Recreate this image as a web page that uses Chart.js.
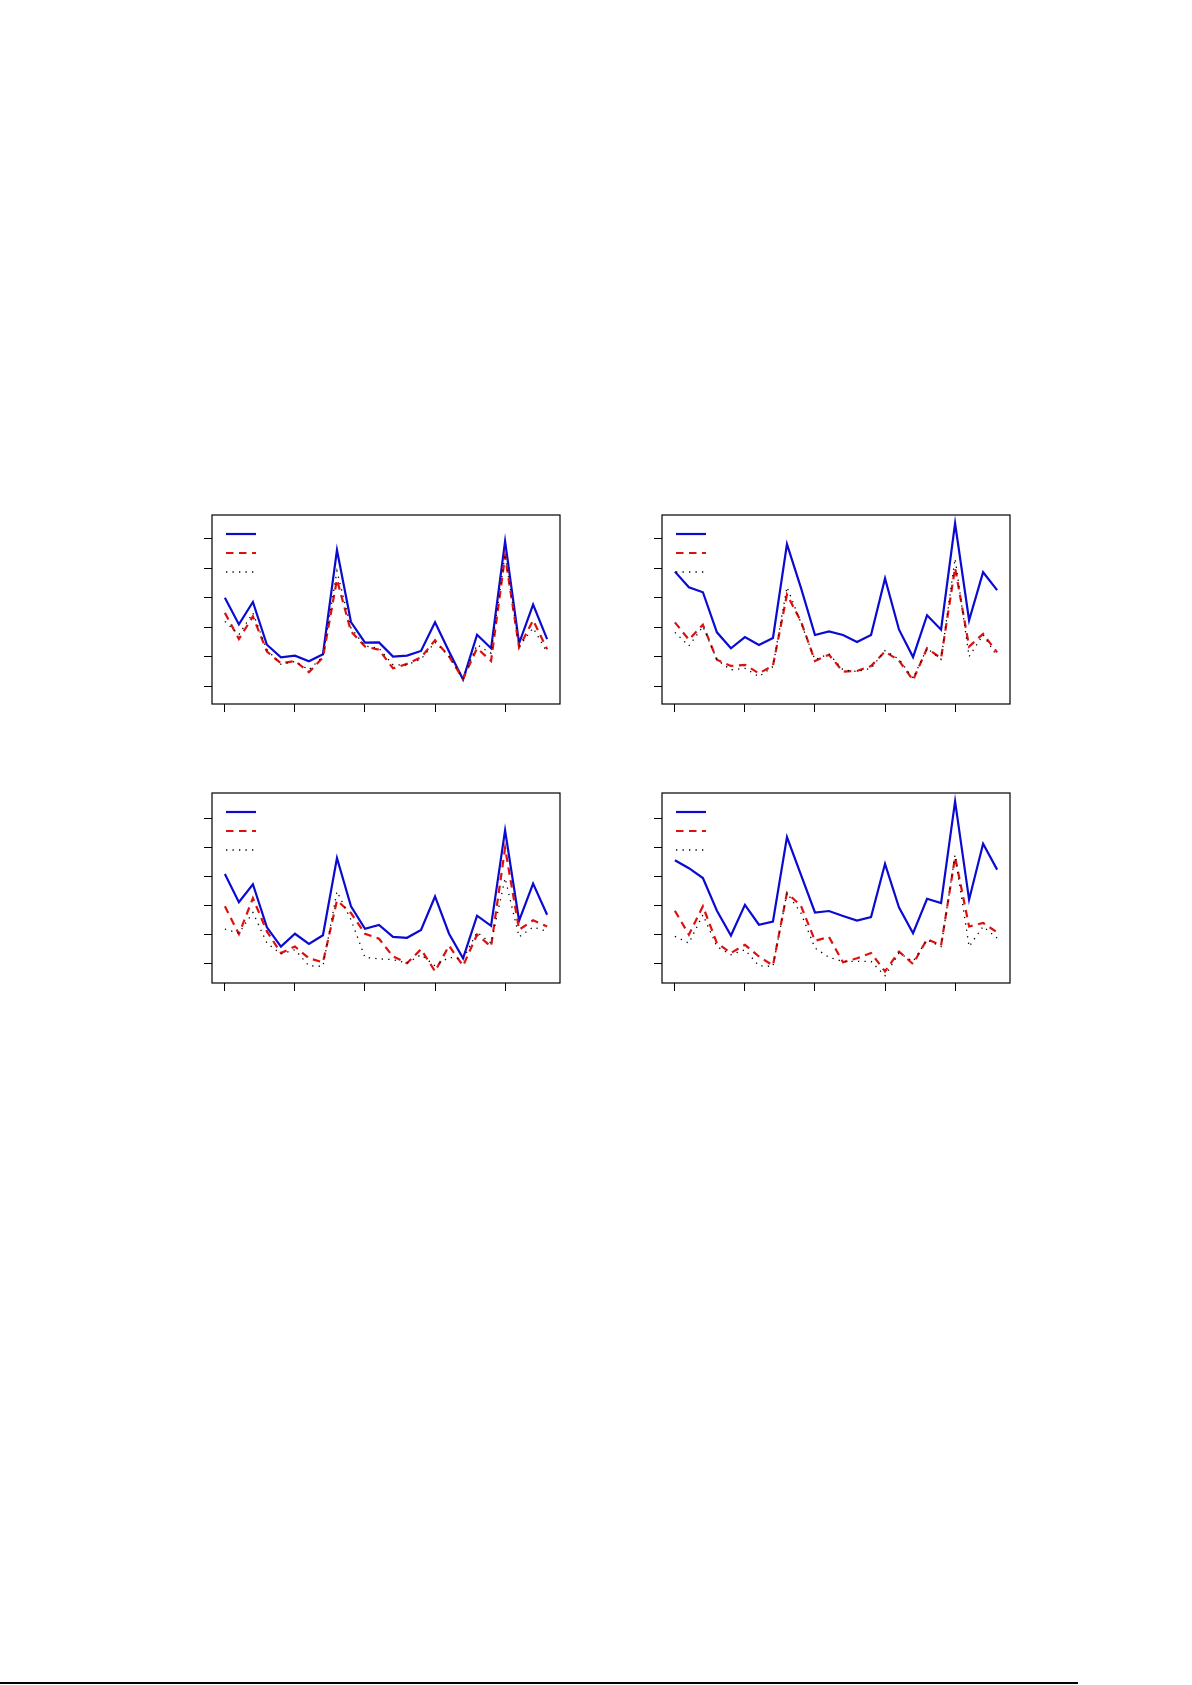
<!DOCTYPE html>
<html>
<head>
<meta charset="utf-8">
<script src="https://cdn.jsdelivr.net/npm/chart.js@4.4.0/dist/chart.umd.min.js"></script>
<style>
  html, body { margin: 0; padding: 0; background: #ffffff; }
  body { width: 1192px; height: 1685px; position: relative; overflow: hidden; font-family: "DejaVu Sans", sans-serif; }
  .panel { position: absolute; }
  .panel canvas { display: block; }
  .rule { position: absolute; left: 0; top: 1682px; width: 1078px; height: 2px; background: #000; }
</style>
</head>
<body>
<div class="panel" id="p1"><canvas id="c1"></canvas></div>
<div class="panel" id="p2"><canvas id="c2"></canvas></div>
<div class="panel" id="p3"><canvas id="c3"></canvas></div>
<div class="panel" id="p4"><canvas id="c4"></canvas></div>
<div class="rule"></div>
<script>
// ---- data (x = index 0..23) ----
const xIndex = [0,1,2,3,4,5,6,7,8,9,10,11,12,13,14,15,16,17,18,19,20,21,22,23];
const xTickValues = [0, 5, 10, 15, 20];
const yTickValues = [0, 1, 2, 3, 4, 5];

const p1Blue  = [2.99,2.09,2.85,1.40,0.97,1.03,0.84,1.08,4.61,2.17,1.47,1.48,1.00,1.03,1.19,2.16,1.17,0.22,1.74,1.28,4.91,1.45,2.76,1.59];
const p1Red   = [2.48,1.59,2.36,1.17,0.77,0.85,0.47,0.97,3.61,1.85,1.34,1.23,0.60,0.75,0.97,1.55,1.00,0.24,1.28,0.85,4.41,1.31,2.23,1.25];
const p1Black = [2.19,1.74,2.48,1.23,0.74,0.83,0.55,1.00,3.90,1.97,1.36,1.28,0.72,0.72,0.91,1.48,1.02,0.26,1.40,1.11,4.47,1.34,1.97,1.14];

const p2Blue  = [3.88,3.35,3.18,1.82,1.28,1.66,1.39,1.63,4.81,3.33,1.73,1.85,1.73,1.49,1.73,3.65,1.91,0.98,2.40,1.91,5.52,2.23,3.86,3.25];
const p2Red   = [2.16,1.57,2.08,0.89,0.68,0.72,0.43,0.69,3.10,2.19,0.85,1.06,0.49,0.51,0.68,1.17,0.86,0.20,1.28,0.94,4.01,1.34,1.77,1.14];
const p2Black = [1.82,1.36,2.02,0.89,0.55,0.60,0.32,0.66,3.36,2.14,0.89,1.09,0.55,0.49,0.60,1.20,0.91,0.26,1.28,0.91,4.32,1.00,1.74,1.00];

const p3Blue  = [3.08,2.11,2.73,1.25,0.59,1.03,0.68,0.98,3.63,1.97,1.20,1.33,0.92,0.89,1.16,2.31,1.03,0.19,1.65,1.30,4.58,1.48,2.75,1.68];
const p3Red   = [1.97,1.02,2.25,1.11,0.37,0.59,0.19,0.05,2.17,1.74,1.03,0.86,0.25,0.02,0.50,-0.26,0.62,-0.07,1.00,0.59,3.97,1.17,1.49,1.28];
const p3Black = [1.19,1.05,1.76,0.71,0.34,0.48,-0.07,-0.09,2.48,1.51,0.22,0.17,0.14,0.02,0.31,-0.07,0.22,0.16,1.08,0.71,2.94,0.92,1.26,1.11];

const p4Blue  = [3.55,3.28,2.94,1.82,0.97,2.02,1.34,1.45,4.35,3.05,1.76,1.81,1.64,1.48,1.60,3.43,1.93,1.05,2.23,2.08,5.57,2.20,4.12,3.23];
const p4Red   = [1.82,1.00,1.97,0.71,0.37,0.65,0.25,-0.06,2.43,1.99,0.79,0.92,0.05,0.19,0.37,-0.26,0.42,-0.01,0.85,0.63,3.66,1.28,1.40,1.08];
const p4Black = [0.94,0.71,1.68,0.59,0.31,0.48,-0.07,-0.09,2.43,1.74,0.54,0.22,0.08,0.08,0.08,-0.41,0.37,0.08,0.82,0.59,3.74,0.59,1.28,0.88];

const seriesLabels = ["", "", ""];

// ---- layout / style ----
const BLUE = "#0a0ad0", RED = "#dd1010", BLACK = "#000000";
const panels = [
  { id: "p1", cv: "c1", frame: { l: 212, t: 515, r: 560, b: 704 }, y: [-0.61, 5.80], data: [p1Blue, p1Red, p1Black] },
  { id: "p2", cv: "c2", frame: { l: 662, t: 515, r: 1010, b: 704 }, y: [-0.61, 5.80], data: [p2Blue, p2Red, p2Black] },
  { id: "p3", cv: "c3", frame: { l: 212, t: 793, r: 560, b: 983 }, y: [-0.66, 5.86], data: [p3Blue, p3Red, p3Black] },
  { id: "p4", cv: "c4", frame: { l: 662, t: 793, r: 1010, b: 983 }, y: [-0.66, 5.86], data: [p4Blue, p4Red, p4Black] },
];
const TICK = 8;
const OUT = 14; // canvas margin around the frame

const framePlugin = {
  id: "frame",
  afterDatasetsDraw(chart) {
    const a = chart.chartArea, ctx = chart.ctx;
    ctx.save();
    ctx.strokeStyle = "#000";
    ctx.lineWidth = 1.2;
    ctx.setLineDash([]);
    ctx.strokeRect(a.left, a.top, a.right - a.left, a.bottom - a.top);
    // legend samples (the reference shows no legend text)
    const x0 = a.left + 14, len = 30;
    const ys = [19, 38, 57];
    chart.data.datasets.forEach((ds, i) => {
      ctx.beginPath();
      ctx.strokeStyle = ds.borderColor;
      ctx.lineWidth = ds.borderWidth;
      ctx.setLineDash(ds.borderDash || []);
      ctx.moveTo(x0, a.top + ys[i]);
      ctx.lineTo(x0 + len, a.top + ys[i]);
      ctx.stroke();
    });
    ctx.restore();
  }
};

const styles = [
  { color: BLUE, width: 2.2, dash: [] },
  { color: RED, width: 2.2, dash: [7.5, 5.5] },
  { color: BLACK, width: 1.3, dash: [1.3, 5.2] },
];

panels.forEach(p => {
  const f = p.frame;
  const left = f.l - OUT, top = f.t - OUT;
  const w = (f.r - f.l) + 2 * OUT, h = (f.b - f.t) + 2 * OUT;
  const div = document.getElementById(p.id);
  div.style.left = left + "px"; div.style.top = top + "px";
  div.style.width = w + "px"; div.style.height = h + "px";
  const cv = document.getElementById(p.cv);
  cv.width = w; cv.height = h;
  cv.style.width = w + "px"; cv.style.height = h + "px";
  new Chart(cv, {
    type: "line",
    data: {
      datasets: p.data.map((arr, i) => ({
        label: seriesLabels[i],
        data: xIndex.map((x, k) => ({ x: x, y: arr[k] })),
        borderColor: styles[i].color,
        backgroundColor: styles[i].color,
        borderWidth: styles[i].width,
        borderDash: styles[i].dash,
        pointRadius: 0,
        tension: 0,
        fill: false,
        order: 2 - i
      }))
    },
    options: {
      responsive: false,
      maintainAspectRatio: false,
      animation: false,
      devicePixelRatio: 1,
      layout: { padding: { left: OUT - TICK, top: OUT, right: OUT, bottom: OUT - TICK } },
      plugins: { legend: { display: false }, tooltip: { enabled: false }, title: { display: false } },
      scales: {
        x: {
          type: "linear", min: -0.92, max: 23.92,
          afterBuildTicks: s => { s.ticks = xTickValues.map(v => ({ value: v })); },
          afterFit: s => { s.height = TICK; },
          ticks: { display: false },
          border: { display: false },
          grid: { drawOnChartArea: false, drawTicks: true, tickLength: TICK, color: "#000", lineWidth: 1 }
        },
        y: {
          type: "linear", min: p.y[0], max: p.y[1],
          afterBuildTicks: s => { s.ticks = yTickValues.map(v => ({ value: v })); },
          afterFit: s => { s.width = TICK; },
          ticks: { display: false },
          border: { display: false },
          grid: { drawOnChartArea: false, drawTicks: true, tickLength: TICK, color: "#000", lineWidth: 1 }
        }
      }
    },
    plugins: [framePlugin]
  });
});
</script>
</body>
</html>
